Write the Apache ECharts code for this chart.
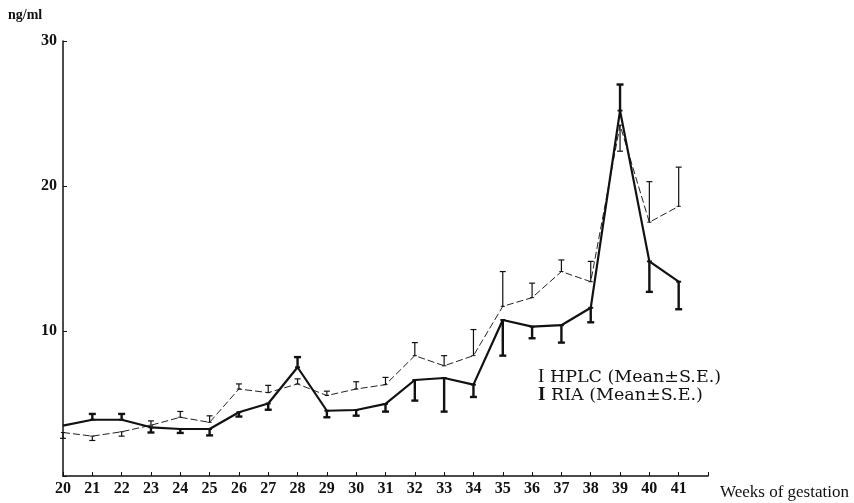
<!DOCTYPE html>
<html>
<head>
<meta charset="utf-8">
<script src="https://cdn.jsdelivr.net/npm/echarts@6/dist/echarts.min.js"></script>
<style>
html,body{margin:0;padding:0;background:#fff;}
#chart{width:854px;height:503px;}
</style>
</head>
<body>
<div id="chart"></div>
<script>
// ---- data ----
var weeks = [20,21,22,23,24,25,26,27,28,29,30,31,32,33,34,35,36,37,38,39,40,41];
var hplcMean = [3.0,2.75,3.05,3.5,4.05,3.7,6.0,5.75,6.35,5.55,6.0,6.3,8.3,7.6,8.3,11.7,12.3,14.1,13.4,24.2,17.5,18.6];
var hplcBarEnd = [2.6,2.45,2.75,3.8,4.45,4.15,6.35,6.25,6.7,5.85,6.5,6.8,9.2,8.3,10.1,14.1,13.3,14.9,14.8,22.4,20.3,21.3];
var riaMean = [3.47,3.88,3.88,3.36,3.24,3.24,4.4,5.0,7.5,4.5,4.55,4.97,6.62,6.76,6.3,10.76,10.3,10.4,11.6,25.2,14.8,13.4];
var riaBarEnd = [null,4.28,4.28,3.0,2.97,2.8,4.1,4.57,8.2,4.05,4.16,4.44,5.2,4.44,5.45,8.3,9.5,9.2,10.6,27.0,12.7,11.5];
var yTicks = [10,20,30];
var xAxisTitle = 'Weeks of gestation';
var yAxisTitle = 'ng/ml';
var legendHPLC = 'HPLC (Mean\u00b1S.E.)';
var legendRIA = 'RIA (Mean\u00b1S.E.)';

var FONT = '"Liberation Serif", "DejaVu Serif", serif';
var WFONT = '"DejaVu Serif", "Liberation Serif", serif';

function pairs(xs, ys){ return xs.map(function(x,i){ return [x, ys[i]]; }); }
function barData(xs, m, e){
  var out = [];
  xs.forEach(function(x,i){ if (e[i] != null) out.push([x, m[i], e[i]]); });
  return out;
}
function errRender(width, capW){
  return function(params, api){
    var p0 = api.coord([api.value(0), api.value(1)]);
    var p1 = api.coord([api.value(0), api.value(2)]);
    var st = {stroke:'#111', lineWidth:width};
    return {type:'group', children:[
      {type:'line', shape:{x1:p0[0],y1:p0[1],x2:p1[0],y2:p1[1]}, style:st},
      {type:'line', shape:{x1:p1[0]-capW,y1:p1[1],x2:p1[0]+capW,y2:p1[1]}, style:st},
      {type:'line', shape:{x1:p0[0]-capW*0.7,y1:p0[1],x2:p0[0]+capW*0.7,y2:p0[1]}, style:{stroke:'#111', lineWidth:width*0.8}}
    ]};
  };
}

var chart = echarts.init(document.getElementById('chart'), null, {renderer:'canvas'});
chart.setOption({
  backgroundColor:'#fff',
  animation:false,
  grid:{left:63, right:146, top:41, bottom:27},
  xAxis:{
    type:'value', min:20, max:42, interval:1,
    axisLine:{lineStyle:{color:'#111', width:1.5}},
    axisTick:{inside:true, length:4, lineStyle:{color:'#111'}},
    splitLine:{show:false},
    axisLabel:{color:'#111', fontFamily:FONT, fontSize:16, fontWeight:'bold', margin:5,
      formatter:function(v){ return (v>=20 && v<=41) ? String(v) : ''; }}
  },
  yAxis:{
    type:'value', min:0, max:30, interval:10,
    axisLine:{show:true, lineStyle:{color:'#111', width:1.5}},
    axisTick:{inside:true, length:4, lineStyle:{color:'#111'}},
    splitLine:{show:false},
    axisLabel:{color:'#111', fontFamily:FONT, fontSize:16, fontWeight:'bold', margin:6,
      formatter:function(v){ return yTicks.indexOf(v) >= 0 ? String(v) : ''; }}
  },
  series:[
    {type:'line', name:'HPLC', data:pairs(weeks,hplcMean), symbol:'none',
     lineStyle:{color:'#222', width:1, type:[7,3]}, z:3},
    {type:'line', name:'RIA', data:pairs(weeks,riaMean), symbol:'none',
     lineStyle:{color:'#111', width:2.2}, z:4},
    {type:'custom', name:'HPLC SE', data:barData(weeks,hplcMean,hplcBarEnd),
     renderItem:errRender(1.2,3), encode:{x:0,y:[1,2]}, z:5},
    {type:'custom', name:'RIA SE', data:barData(weeks,riaMean,riaBarEnd),
     renderItem:errRender(2.4,3.5), encode:{x:0,y:[1,2]}, z:6}
  ],
  graphic:[
    {type:'text', left:8, top:8, style:{text:yAxisTitle, fontFamily:FONT, fontSize:14, fontWeight:'bold', fill:'#111'}},
    {type:'text', left:720, top:484, style:{text:xAxisTitle, fontFamily:FONT, fontSize:17, fill:'#111'}},
    {type:'text', left:538, top:368, style:{
      text:'{thin|I} '+legendHPLC, fontFamily:WFONT, fontSize:17.5, fill:'#111',
      rich:{thin:{fontFamily:FONT, fontSize:19, fontWeight:'normal', fill:'#111'}}}},
    {type:'text', left:538, top:386, style:{
      text:'{bold|I} '+legendRIA, fontFamily:WFONT, fontSize:17.5, fill:'#111',
      rich:{bold:{fontFamily:FONT, fontSize:19, fontWeight:'bold', fill:'#111'}}}}
  ]
});
</script>
</body>
</html>
